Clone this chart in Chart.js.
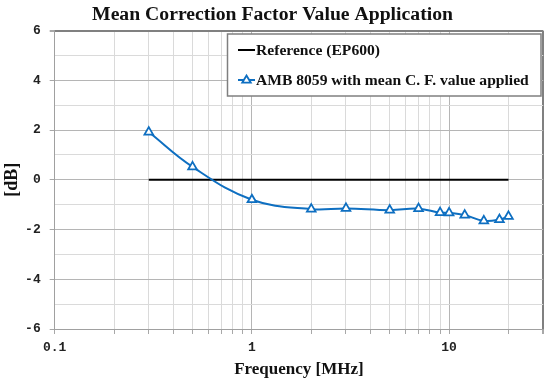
<!DOCTYPE html>
<html>
<head>
<meta charset="utf-8">
<script src="https://cdn.jsdelivr.net/npm/chart.js@4"></script>
<style>
html,body{margin:0;padding:0;background:#fff;}
#wrap{width:550px;height:382px;position:relative;}
</style>
</head>
<body>
<div id="wrap"><canvas id="c" width="550" height="382"></canvas></div>
<script>
// ---- data ----
const titleText = "Mean Correction Factor Value Application";
const xTitle = "Frequency [MHz]";
const yTitle = "[dB]";
const refLabel = "Reference (EP600)";
const ambLabel = "AMB 8059 with mean C. F. value applied";
const refFreqs = [0.3, 20];
const refValues = [0, 0];
const ambFreqs = [0.3, 0.5, 1, 2, 3, 5, 7, 9, 10, 12, 15, 18, 20];
const ambValues = [1.92, 0.52, -0.8, -1.18, -1.15, -1.22, -1.16, -1.32, -1.33, -1.42, -1.65, -1.6, -1.47];
const xTickValues = [0.1,0.2,0.3,0.4,0.5,0.6,0.7,0.8,0.9,1,2,3,4,5,6,7,8,9,10,20,30];
const xLabeled = [0.1, 1, 10];

const SERIF = "'Liberation Serif', 'DejaVu Serif', serif";
const MONO = "'Liberation Mono', 'DejaVu Sans Mono', monospace";
const BLUE = "#0E6FC1";

const legendPlugin = {
  id: 'boxLegend',
  afterDraw(chart) {
    const ctx = chart.ctx;
    const x0 = 227.5, y0 = 34, x1 = 541, y1 = 96;
    ctx.save();
    ctx.fillStyle = '#fff';
    ctx.fillRect(x0, y0, x1 - x0, y1 - y0);
    ctx.strokeStyle = '#7f7f7f';
    ctx.lineWidth = 1.5;
    ctx.strokeRect(x0, y0, x1 - x0, y1 - y0);
    const ds = chart.data.datasets;
    const rows = [50, 80];
    ds.forEach((d, i) => {
      const y = rows[i];
      ctx.strokeStyle = d.borderColor;
      ctx.lineWidth = 2;
      ctx.beginPath(); ctx.moveTo(238, y); ctx.lineTo(255, y); ctx.stroke();
      if (d.pointRadius > 0) {
        const r = 4.5;
        ctx.beginPath();
        ctx.moveTo(246.5, y - r);
        ctx.lineTo(246.5 + r * 0.95, y + r * 0.6);
        ctx.lineTo(246.5 - r * 0.95, y + r * 0.6);
        ctx.closePath();
        ctx.fillStyle = '#fff'; ctx.fill();
        ctx.lineWidth = 1.8; ctx.stroke();
      }
      ctx.fillStyle = '#111';
      ctx.font = "bold 15.6px " + SERIF;
      ctx.textBaseline = 'middle';
      ctx.fillText(d.label, 256, y + 1);
    });
    ctx.restore();
  }
};

new Chart(document.getElementById('c'), {
  type: 'scatter',
  data: {
    datasets: [
      {
        label: refLabel,
        data: refFreqs.map((x, i) => ({x, y: refValues[i]})),
        showLine: true,
        borderColor: '#000',
        borderWidth: 2,
        pointRadius: 0,
        order: 2
      },
      {
        label: ambLabel,
        data: ambFreqs.map((x, i) => ({x, y: ambValues[i]})),
        showLine: true,
        borderColor: BLUE,
        borderWidth: 2,
        tension: 0.4,
        pointStyle: 'triangle',
        pointRadius: 5,
        pointBorderWidth: 1.8,
        pointBackgroundColor: '#fff',
        pointBorderColor: BLUE,
        order: 1
      }
    ]
  },
  options: {
    responsive: false,
    animation: false,
    layout: { padding: { left: 0, right: 5, top: 0, bottom: 0 } },
    plugins: {
      legend: { display: false },
      tooltip: { enabled: false },
      title: {
        display: true,
        text: titleText,
        color: '#111',
        font: { family: SERIF, size: 19.7, weight: 'bold' },
        padding: { top: 3, bottom: 4 }
      }
    },
    scales: {
      x: {
        type: 'logarithmic',
        min: 0.1, max: 30,
        afterBuildTicks: (s) => { s.ticks = xTickValues.map(v => ({value: v})); },
        afterFit: (s) => { s.height = 53; },
        ticks: {
          autoSkip: false, maxRotation: 0, padding: 6,
          color: '#222',
          font: { family: MONO, size: 13, weight: 'bold' },
          callback: (v) => xLabeled.includes(v) ? String(v) : ''
        },
        grid: {
          tickLength: 5,
          color: (c) => {
            const v = c.tick && c.tick.value;
            if (v === 30) return '#808080';
            if (v === 1 || v === 10) return '#b5b5b5';
            return '#dadada';
          },
          tickColor: '#a8a8a8',
          lineWidth: (c) => (c.tick && c.tick.value === 30) ? 2 : 1
        },
        border: { color: '#a0a0a0', width: 1 },
        title: {
          display: true, text: xTitle, color: '#111',
          font: { family: SERIF, size: 17, weight: 'bold' },
          padding: { top: 0, bottom: 2 }
        }
      },
      y: {
        min: -6, max: 6,
        afterFit: (s) => { s.width = 54.7; },
        ticks: {
          stepSize: 1, padding: 9,
          color: '#222',
          font: { family: MONO, size: 13, weight: 'bold' },
          callback: (v) => (v % 2 === 0) ? String(v) : ''
        },
        grid: {
          tickLength: 5,
          color: (c) => {
            const v = c.tick && c.tick.value;
            if (v === 6) return '#808080';
            if (v % 2 === 0) return '#b5b5b5';
            return '#dadada';
          },
          lineWidth: (c) => (c.tick && c.tick.value === 6) ? 2 : 1,
          tickColor: (c) => (c.tick && c.tick.value % 2 === 0) ? '#a8a8a8' : 'rgba(0,0,0,0)'
        },
        border: { color: '#a0a0a0', width: 1 },
        title: {
          display: true, text: yTitle, color: '#111',
          font: { family: SERIF, size: 18, weight: 'bold' },
          padding: { top: 2, bottom: 0 }
        }
      }
    }
  },
  plugins: [legendPlugin]
});
</script>
</body>
</html>
